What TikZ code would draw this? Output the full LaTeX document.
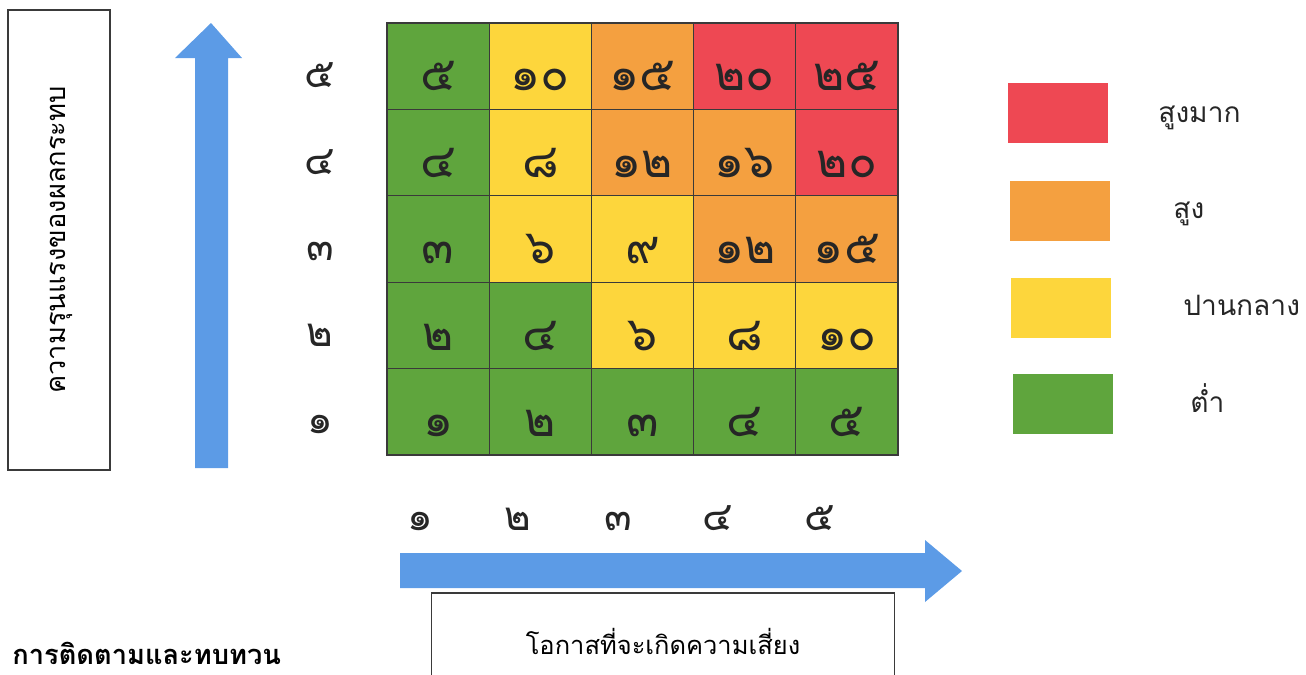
\documentclass[tikz,border=0pt]{standalone}
\usepackage{fontspec}
\setmainfont[Script=Thai]{Loma}
\usetikzlibrary{calc,positioning}
\definecolor{riskred}{HTML}{EE4853}
\definecolor{riskorange}{HTML}{F4A040}
\definecolor{riskyellow}{HTML}{FDD63C}
\definecolor{riskgreen}{HTML}{5FA53D}
\definecolor{arrowblue}{HTML}{5C9BE6}
\definecolor{frame}{HTML}{3A3A3A}
\tikzset{
  cell/.style={draw=frame, line width=0.7pt, inner sep=0pt, minimum width=2.044cm, minimum height=1.728cm},
  num/.style={inner sep=0pt, text height=0.5em, text depth=0pt, font=\fontsize{27}{27}\selectfont, text=black!85},
  axis/.style={num, font=\fontsize{23}{23}\selectfont},
  titlebox/.style={draw=frame, line width=0.8pt, fill=white, inner sep=0pt, text height=0.7em, text depth=0pt},
  key/.style={inner sep=0pt, minimum width=2cm, minimum height=1.2cm},
  keylab/.style={anchor=west, inner sep=0pt, text height=0.7em, text depth=0pt, font=\fontsize{16}{16}\selectfont, text=black!85},
  bigarrow/.style={fill=arrowblue},
}

\begin{document}
\begin{tikzpicture}[x=0.02cm,y=-0.02cm]
  \useasboundingbox (0,0) rectangle (1306,674);
  \clip (0,0) rectangle (1306,674);

  % vertical title and arrow
  \node[titlebox, rotate=90, minimum width=9.2cm, minimum height=2.04cm, font=\fontsize{15.5}{15.5}\selectfont] (impact) at (59,240) {ความรุนแรงของผลกระทบ};
  \fill[bigarrow] (195,468) -- (195,58) -- (175,58) -- (211,23) -- (242,58) -- (228,58) -- (228,468) -- cycle;

  % risk matrix
  \foreach \r/\cells in {5/{riskgreen/๕,riskyellow/๑๐,riskorange/๑๕,riskred/๒๐,riskred/๒๕},
                         4/{riskgreen/๔,riskyellow/๘,riskorange/๑๒,riskorange/๑๖,riskred/๒๐},
                         3/{riskgreen/๓,riskyellow/๖,riskyellow/๙,riskorange/๑๒,riskorange/๑๕},
                         2/{riskgreen/๒,riskgreen/๔,riskyellow/๖,riskyellow/๘,riskyellow/๑๐},
                         1/{riskgreen/๑,riskgreen/๒,riskgreen/๓,riskgreen/๔,riskgreen/๕}}{
    \foreach \clr/\val [count=\c] in \cells {
      \node[cell, fill=\clr] (cell-\r-\c) at ({387+102.2*(\c-0.5)},{23+86.4*(5.5-\r)}) {};
      \node[num, yshift=-11.5pt] (val-\r-\c) at (cell-\r-\c) {\val};
    }
  }

  % axis numbers
  \foreach \val [count=\r] in {๑,๒,๓,๔,๕}{
    \node[axis] (row-\r) at (320,{23+86.4*(5.5-\r)+17}) {\val};
  }
  \foreach \val/\x [count=\c] in {๑/420,๒/518,๓/618,๔/718,๕/820}{
    \node[axis] (col-\c) at (\x,526) {\val};
  }

  % horizontal arrow and title
  \fill[bigarrow] (400,553) -- (925,553) -- (925,540) -- (962,571) -- (925,602) -- (925,588) -- (400,588) -- cycle;
  \node[titlebox, minimum width=9.26cm, minimum height=2.2cm, font=\fontsize{14.5}{14.5}\selectfont] (likely) at (663,648) {โอกาสที่จะเกิดความเสี่ยง};

  % legend
  \node[key, fill=riskred] (key-vh) at (1058,113) {};
  \node[key, fill=riskorange] (key-h) at (1060,211) {};
  \node[key, fill=riskyellow] (key-m) at (1061,308) {};
  \node[key, fill=riskgreen] (key-l) at (1063,404) {};
  \node[keylab] (lab-vh) at (1158,116) {สูงมาก};
  \node[keylab] (lab-h) at (1173,212) {สูง};
  \node[keylab] (lab-m) at (1183,309) {ปานกลาง};
  \node[keylab] (lab-l) at (1190,406) {ต่ำ};

  % follow-up heading
  \node[anchor=base west, inner sep=0pt, text depth=0pt, font=\bfseries\fontsize{15.5}{15.5}\selectfont] (review) at (12,664) {การติดตามและทบทวน};
\end{tikzpicture}
\end{document}
